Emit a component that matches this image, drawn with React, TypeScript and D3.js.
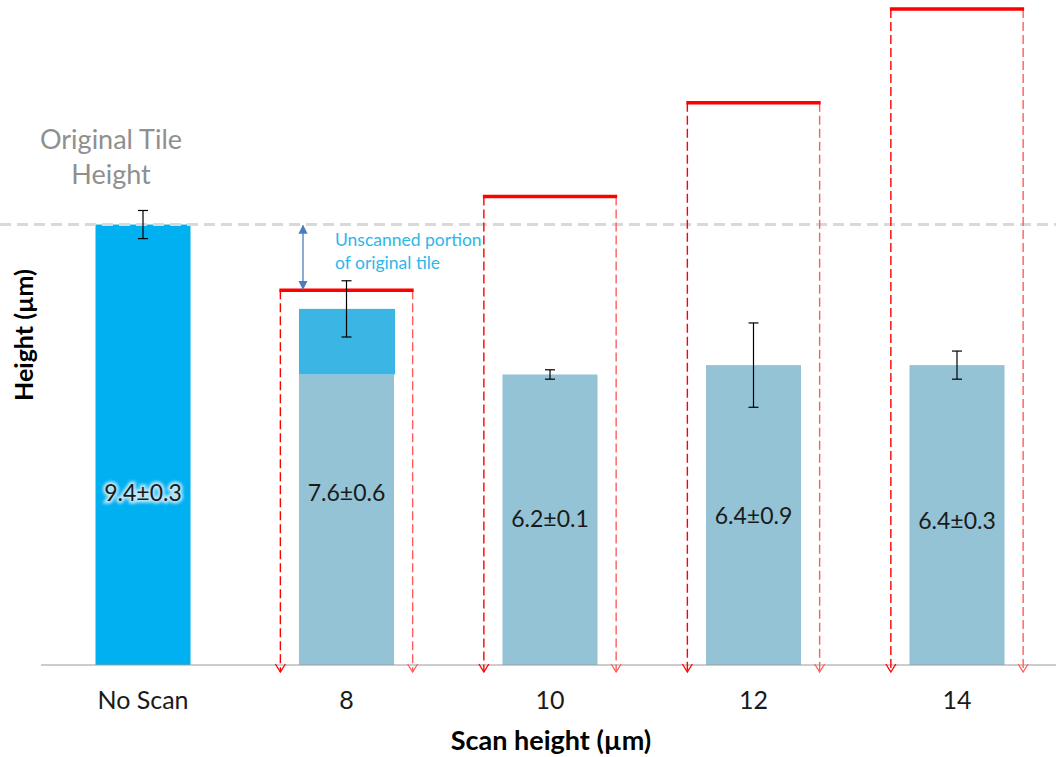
import React from "react";
import * as d3 from "d3";

// Tile heights after scanning at different scan heights
const categories = ["No Scan", "8", "10", "12", "14"];
const meanHeights = [9.4, 7.6, 6.2, 6.4, 6.4];
const errors = [0.3, 0.6, 0.1, 0.9, 0.3];
const scanHeights: (number | null)[] = [null, 8, 10, 12, 14];
// Retained (scanned) part of the 8 µm tile; above it is the unscanned portion
const scannedPortion: (number | null)[] = [null, 6.2, null, null, null];
const originalHeight = 9.4;

const W = 1056;
const H = 757;
const baseY = 665;
// vertical centre of each value label inside its bar
const labelCentres = [492, 492, 518, 515, 520];

const FONT = "Lato, 'Open Sans', 'DejaVu Sans', sans-serif";

export default function App() {
  const x = d3
    .scaleBand<string>()
    .domain(categories)
    .range([41.25, 1058.75])
    .paddingInner(0.533)
    .paddingOuter(0.2665);
  const y = d3.scaleLinear().domain([0, 14]).range([baseY, 9]);
  const bw = x.bandwidth();
  const step = x.step();
  const bracketHalf = step * 0.325;

  const cx = (c: string) => (x(c) as number) + bw / 2;

  return (
    <svg
      width={W}
      height={H}
      style={{ position: "absolute", left: 0, top: 0, background: "#fff" }}
      fontFamily={FONT}
    >
      <defs>
        <filter id="glow" x="-20%" y="-40%" width="140%" height="180%">
          <feGaussianBlur stdDeviation="1.8" />
        </filter>
        <marker id="blueHead" viewBox="0 0 10 10" refX="9" refY="5" markerWidth="7" markerHeight="7" orient="auto-start-reverse">
          <path d="M0,0 L10,5 L0,10 z" fill="#4a7ebb" />
        </marker>
      </defs>

      {/* bars */}
      {categories.map((c, i) => {
        const x0 = x(c) as number;
        const top = y(meanHeights[i]);
        if (i === 0) {
          return <rect key={c} x={x0} y={top} width={bw} height={baseY - top} fill="#00b0f0" />;
        }
        const sp = scannedPortion[i];
        if (sp != null) {
          const mid = y(sp);
          return (
            <g key={c}>
              <rect x={x0} y={mid} width={bw} height={baseY - mid} fill="#93c3d5" />
              <rect x={x0} y={top} width={bw + 1} height={mid - top} fill="#3bb5e3" />
            </g>
          );
        }
        return <rect key={c} x={x0} y={top} width={bw} height={baseY - top} fill="#93c3d5" />;
      })}

      {/* original tile height reference line */}
      <line x1={0} x2={W} y1={y(originalHeight)} y2={y(originalHeight)} stroke="#d9d9d9" strokeWidth={3} strokeDasharray="11,6" />

      {/* x axis line */}
      <line x1={41} x2={W} y1={baseY} y2={baseY} stroke="#9a9a9a" strokeWidth={1} />

      {/* scan height brackets */}
      {categories.map((c, i) => {
        const h = scanHeights[i];
        if (h == null) return null;
        const center = cx(c);
        const xl = center - bracketHalf;
        const xr = center + bracketHalf;
        const yt = y(h);
        const tip = baseY + 7;
        return (
          <g key={"br" + c} fill="none">
            <line x1={xl} x2={xl} y1={yt} y2={tip} stroke="#ff0000" strokeWidth={1.4} strokeDasharray="9,4" />
            <line x1={xr} x2={xr} y1={yt} y2={tip} stroke="#ff5c5c" strokeWidth={1.4} strokeDasharray="9,4" />
            <path d={`M${xl - 5},${tip - 8}L${xl},${tip}L${xl + 5},${tip - 8}`} stroke="#ff0000" strokeWidth={1.3} />
            <path d={`M${xr - 5},${tip - 8}L${xr},${tip}L${xr + 5},${tip - 8}`} stroke="#ff5c5c" strokeWidth={1.3} />
            <line x1={xl - 1} x2={xr + 1} y1={yt} y2={yt} stroke="#ff0000" strokeWidth={3.5} />
          </g>
        );
      })}

      {/* error bars */}
      {categories.map((c, i) => {
        const center = cx(c);
        const y1 = y(meanHeights[i] + errors[i]);
        const y2 = y(meanHeights[i] - errors[i]);
        return (
          <g key={"err" + c} stroke="#000" strokeWidth={1.2}>
            <line x1={center} x2={center} y1={y1} y2={y2} />
            <line x1={center - 5} x2={center + 5} y1={y1} y2={y1} />
            <line x1={center - 5} x2={center + 5} y1={y2} y2={y2} />
          </g>
        );
      })}

      {/* value labels */}
      {categories.map((c, i) => {
        const center = cx(c);
        const ly = labelCentres[i];
        const txt = `${meanHeights[i].toFixed(1)}±${errors[i].toFixed(1)}`;
        return (
          <g key={"lab" + c} fontSize={23} textAnchor="middle" dominantBaseline="central">
            {i === 0 && (
              <text x={center} y={ly} fill="#b8e8fb" stroke="#b8e8fb" strokeWidth={5} filter="url(#glow)">
                {txt}
              </text>
            )}
            <text x={center} y={ly} fill="#1a1a1a">
              {txt}
            </text>
          </g>
        );
      })}

      {/* unscanned portion annotation */}
      <line
        x1={303}
        x2={303}
        y1={y(originalHeight) + 1}
        y2={y(scanHeights[1] as number) - 1}
        stroke="#4a7ebb"
        strokeWidth={1.3}
        markerStart="url(#blueHead)"
        markerEnd="url(#blueHead)"
      />
      <text x={335} y={246} fontSize={17.5} fill="#2db7ea">
        Unscanned portion
      </text>
      <text x={335} y={269} fontSize={17.5} fill="#2db7ea">
        of original tile
      </text>

      <text x={111} y={149} fontSize={27} fill="#8f8f8f" textAnchor="middle">
        Original Tile
      </text>
      <text x={111} y={184} fontSize={27} fill="#8f8f8f" textAnchor="middle">
        Height
      </text>

      {/* category labels */}
      {categories.map((c) => (
        <text key={"t" + c} x={cx(c)} y={709} fontSize={25} fill="#1a1a1a" textAnchor="middle">
          {c}
        </text>
      ))}

      {/* axis titles */}
      <text x={551} y={750} fontSize={27} fontWeight="bold" fill="#000" textAnchor="middle">
        Scan height (µm)
      </text>
      <text
        transform={`translate(33,335) rotate(-90)`}
        fontSize={25}
        fontWeight="bold"
        fill="#000"
        textAnchor="middle"
      >
        Height (µm)
      </text>
    </svg>
  );
}
